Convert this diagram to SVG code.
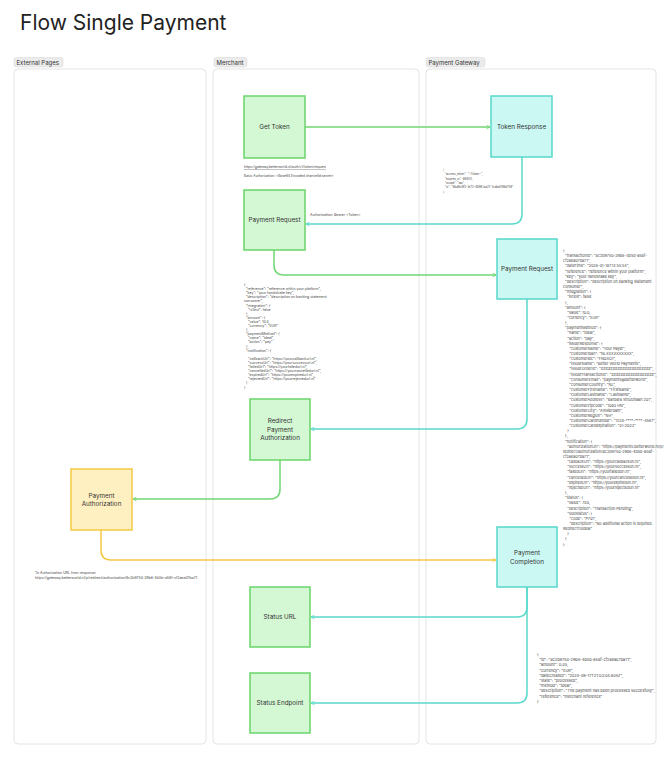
<svg xmlns="http://www.w3.org/2000/svg" width="670" height="758" viewBox="0 0 670 758">
<defs>
<style>
.lane{fill:#fff;stroke:#e4e4e4;stroke-width:1}
.lbl{fill:#ebebeb;stroke:#d6d6d6;stroke-width:0.5}
.lt{font-family:Inter,"Liberation Sans",sans-serif;font-size:6px;fill:#333}
.g{fill:#d4f7d4;stroke:#6ad56a;stroke-width:1.5}
.c{fill:#ccf8f3;stroke:#55d8ca;stroke-width:1.5}
.y{fill:#fff0c2;stroke:#f3c744;stroke-width:1.5}
.nt{font-family:Inter,"Liberation Sans",sans-serif;font-size:6.3px;fill:#333;text-anchor:middle}
.cg{fill:none;stroke:#72d672;stroke-width:1.5}
.cc{fill:none;stroke:#5ad9cb;stroke-width:1.5}
.cy{fill:none;stroke:#f3c744;stroke-width:1.5}
.j{font-family:Inter,"Liberation Sans",sans-serif;fill:#444;white-space:pre}
</style>
<marker id="ag" viewBox="0 0 10 10" refX="9" refY="5" markerWidth="5" markerHeight="5" orient="auto" markerUnits="userSpaceOnUse"><path d="M2,1 L9,5 L2,9" fill="none" stroke="#72d672" stroke-width="1.6"/></marker>
<marker id="ac" viewBox="0 0 10 10" refX="9" refY="5" markerWidth="5" markerHeight="5" orient="auto" markerUnits="userSpaceOnUse"><path d="M2,1 L9,5 L2,9" fill="none" stroke="#5ad9cb" stroke-width="1.6"/></marker>
<marker id="ay" viewBox="0 0 10 10" refX="9" refY="5" markerWidth="5" markerHeight="5" orient="auto" markerUnits="userSpaceOnUse"><path d="M2,1 L9,5 L2,9" fill="none" stroke="#f3c744" stroke-width="1.6"/></marker>
</defs>
<rect width="670" height="758" fill="#fff"/>
<text x="20" y="30" font-family="Inter,'Liberation Sans',sans-serif" font-size="21" fill="#222">Flow Single Payment</text>

<g id="lanes">
<rect class="lane" x="14" y="69" width="192" height="675" rx="4"/>
<rect class="lane" x="213" y="69" width="206" height="675" rx="4"/>
<rect class="lane" x="426" y="69" width="230" height="675" rx="4"/>
<rect class="lbl" x="14" y="57.5" width="49" height="9.5" rx="2"/>
<text class="lt" x="16.5" y="64.5">External Pages</text>
<rect class="lbl" x="214" y="57.5" width="33" height="9.5" rx="2"/>
<text class="lt" x="216.5" y="64.5">Merchant</text>
<rect class="lbl" x="426" y="57.5" width="59" height="9.5" rx="2"/>
<text class="lt" x="428.5" y="64.5">Payment Gateway</text>
</g>

<g id="connectors">
<path class="cg" d="M305,127 H490" marker-end="url(#ag)"/>
<path class="cc" d="M522,157 V214 Q522,224 512,224 H306" marker-end="url(#ac)"/>
<path class="cg" d="M274,250 V265 Q274,275 284,275 H496" marker-end="url(#ag)"/>
<path class="cc" d="M527,299 V419 Q527,429 517,429 H311" marker-end="url(#ac)"/>
<path class="cg" d="M280,460 V489 Q280,499 270,499 H133" marker-end="url(#ag)"/>
<path class="cy" d="M101,530 V550 Q101,560 111,560 H496" marker-end="url(#ay)"/>
<path class="cc" d="M527,587 V607 Q527,617 517,617 H311" marker-end="url(#ac)"/>
<path class="cc" d="M527,587 V693 Q527,703 517,703 H311" marker-end="url(#ac)"/>
</g>

<g id="get-token"><rect class="g" x="244" y="96" width="61" height="62"/><text class="nt" x="274.5" y="129">Get Token</text></g>
<g id="token-response"><rect class="c" x="491" y="96" width="61" height="61"/><text class="nt" x="521.5" y="129">Token Response</text></g>
<g id="payment-request-merchant"><rect class="g" x="244" y="190" width="61" height="60"/><text class="nt" x="274.5" y="222">Payment Request</text></g>
<g id="payment-request-gateway"><rect class="c" x="497" y="239" width="60" height="60"/><text class="nt" x="527" y="271">Payment Request</text></g>
<g id="redirect-payment-authorization"><rect class="g" x="250" y="399" width="60" height="61"/><text class="nt" x="280" y="423">Redirect</text><text class="nt" x="280" y="431.5">Payment</text><text class="nt" x="280" y="440">Authorization</text></g>
<g id="payment-authorization"><rect class="y" x="71" y="469" width="61" height="61"/><text class="nt" x="101.5" y="497.5">Payment</text><text class="nt" x="101.5" y="506">Authorization</text></g>
<g id="payment-completion"><rect class="c" x="497" y="527" width="60" height="60"/><text class="nt" x="527" y="555">Payment</text><text class="nt" x="527" y="563.5">Completion</text></g>
<g id="status-url"><rect class="g" x="250" y="587" width="60" height="60"/><text class="nt" x="280" y="619">Status URL</text></g>
<g id="status-endpoint"><rect class="g" x="250" y="673" width="60" height="60"/><text class="nt" x="280" y="705">Status Endpoint</text></g>

<g id="texts">
<text class="j" font-size="3.3" x="244" y="168" text-decoration="underline">https://gateway.betterworld.nl/auth/v1/token/request</text>
<text class="j" font-size="3.3" x="244" y="177">Basic Authorization: &lt;Base64 Encoded channelId:secret&gt;</text>
<text class="j" font-size="3.5" x="310" y="216">Authorization: Bearer &lt;Token&gt;</text>

<text class="j" font-size="2.9" x="443">
<tspan x="443" y="171">{</tspan>
<tspan x="443" y="175.3">  "access_token": "&lt;Token&gt;",</tspan>
<tspan x="443" y="179.6">  "expires_in": 86400,</tspan>
<tspan x="443" y="183.9">  "scope": "api",</tspan>
<tspan x="443" y="188.2">  "jti": "8bd6c9f3-1e73-4896-ba27-1cdbd789d759"</tspan>
<tspan x="443" y="192.5">}</tspan>
</text>

<text class="j" font-size="3.5">
<tspan x="244" y="286">{</tspan>
<tspan x="244" y="290.1">  "reference": "reference within your platform",</tspan>
<tspan x="244" y="294.2">  "key": "your handshake key",</tspan>
<tspan x="244" y="298.3">  "description": "description on banking statement</tspan>
<tspan x="244" y="302.4">consumer",</tspan>
<tspan x="244" y="306.5">  "integration": {</tspan>
<tspan x="244" y="310.6">    "isTest": false</tspan>
<tspan x="244" y="314.7">  },</tspan>
<tspan x="244" y="318.8">  "amount": {</tspan>
<tspan x="244" y="322.9">    "value": 10.0,</tspan>
<tspan x="244" y="327">    "currency": "EUR"</tspan>
<tspan x="244" y="331.1">  },</tspan>
<tspan x="244" y="335.2">  "paymentMethod": {</tspan>
<tspan x="244" y="339.3">    "name": "ideal",</tspan>
<tspan x="244" y="343.4">    "action": "pay"</tspan>
<tspan x="244" y="347.5">  },</tspan>
<tspan x="244" y="351.6">  "notification": {</tspan>
<tspan x="244" y="359.8">    "callbackUrl": "https://yourcallbackurl.nl",</tspan>
<tspan x="244" y="363.9">    "successUrl": "https://yoursuccessurl.nl",</tspan>
<tspan x="244" y="368">    "failedUrl": "https://yourfailedurl.nl",</tspan>
<tspan x="244" y="372.1">    "cancelledUrl": "https://yourcancelledurl.nl",</tspan>
<tspan x="244" y="376.2">    "expiredUrl": "https://yourexpiredurl.nl",</tspan>
<tspan x="244" y="380.3">    "rejectedUrl": "https://yourrejectedurl.nl"</tspan>
<tspan x="244" y="384.4">  }</tspan>
<tspan x="244" y="388.5">}</tspan>
</text>

<text class="j" font-size="3.75">
<tspan x="563" y="252">{</tspan>
<tspan x="563" y="257.15">  "transactionId": "8c2b9750-29b6-4b5b-a58f-</tspan>
<tspan x="563" y="262.3">cf2aea07ba71",</tspan>
<tspan x="563" y="267.45">  "dateTime": "2026-01-18T13:55:54",</tspan>
<tspan x="563" y="272.6">  "reference": "reference within your platform",</tspan>
<tspan x="563" y="277.75">  "key": "your handshake key",</tspan>
<tspan x="563" y="282.9">  "description": "description on banking statement</tspan>
<tspan x="563" y="288.05">consumer",</tspan>
<tspan x="563" y="293.2">  "integration": {</tspan>
<tspan x="563" y="298.35">    "isTest": false</tspan>
<tspan x="563" y="303.5">  },</tspan>
<tspan x="563" y="308.65">  "amount": {</tspan>
<tspan x="563" y="313.8">    "value": 10.0,</tspan>
<tspan x="563" y="318.95">    "currency": "EUR"</tspan>
<tspan x="563" y="324.1">  },</tspan>
<tspan x="563" y="329.25">  "paymentMethod": {</tspan>
<tspan x="563" y="334.4">    "name": "ideal",</tspan>
<tspan x="563" y="339.55">    "action": "pay",</tspan>
<tspan x="563" y="344.7">    "issuerResponse": {</tspan>
<tspan x="563" y="349.85">      "customerName": "Your Payer",</tspan>
<tspan x="563" y="355">      "customerIban": "NLXXXXXXXXXX",</tspan>
<tspan x="563" y="360.15">      "customerBic": "FNDSO1",</tspan>
<tspan x="563" y="365.3">      "issuerName": "Better World Payments",</tspan>
<tspan x="563" y="370.45">      "issuerOrderId": "#####################",</tspan>
<tspan x="563" y="375.6">      "issuerTransactionId": "##################",</tspan>
<tspan x="563" y="380.75">      "consumerEmail": "payments@betterworld",</tspan>
<tspan x="563" y="385.9">      "consumerCountry": "NL",</tspan>
<tspan x="563" y="391.05">      "customerFirstname": "FirstName",</tspan>
<tspan x="563" y="396.2">      "customerLastname": "LastName",</tspan>
<tspan x="563" y="401.35">      "customerAddress": "Barbara Strozzilaan 201",</tspan>
<tspan x="563" y="406.5">      "customerZipcode": "1083 HN",</tspan>
<tspan x="563" y="411.65">      "customerCity": "Amsterdam",</tspan>
<tspan x="563" y="416.8">      "customerRegion": "NH",</tspan>
<tspan x="563" y="421.95">      "customerCardnumber": "1234-****-****-4567",</tspan>
<tspan x="563" y="427.1">      "customerCardexpiration": "01-2023"</tspan>
<tspan x="563" y="432.25">    }</tspan>
<tspan x="563" y="437.4">  },</tspan>
<tspan x="563" y="442.55">  "notification": {</tspan>
<tspan x="563" y="447.7">    "authorizationUrl": "https://payments.betterworld.nl/p/</tspan>
<tspan x="563" y="452.85">redirect/authorization/8c2b9750-29b6-4b5b-a58f-</tspan>
<tspan x="563" y="458">cf2aea07ba71",</tspan>
<tspan x="563" y="463.15">    "callbackUrl": "https://yourcallbackurl.nl",</tspan>
<tspan x="563" y="468.3">    "successUrl": "https://yoursuccessurl.nl",</tspan>
<tspan x="563" y="473.45">    "failedUrl": "https://yourfailedurl.nl",</tspan>
<tspan x="563" y="478.6">    "cancelledUrl": "https://yourcancelledurl.nl",</tspan>
<tspan x="563" y="483.75">    "expiredUrl": "https://yourexpiredurl.nl",</tspan>
<tspan x="563" y="488.9">    "rejectedUrl": "https://yourrejectedurl.nl"</tspan>
<tspan x="563" y="494.05">  },</tspan>
<tspan x="563" y="499.2">  "status": {</tspan>
<tspan x="563" y="504.35">    "value": 700,</tspan>
<tspan x="563" y="509.5">    "description": "Transaction Pending",</tspan>
<tspan x="563" y="514.65">    "subStatus": {</tspan>
<tspan x="563" y="519.8">      "code": "P701",</tspan>
<tspan x="563" y="524.95">      "description": "No additional action is required.</tspan>
<tspan x="563" y="530.1">RedirectToIdeal"</tspan>
<tspan x="563" y="535.25">    }</tspan>
<tspan x="563" y="540.4">  }</tspan>
<tspan x="563" y="545.55">}</tspan>
</text>

<text class="j" font-size="3.5">
<tspan x="35" y="574">To Authorization URL from response:</tspan>
<tspan x="35" y="579">https://gateway.betterworld.nl/p/redirect/authorization/8c2b9750-29b6-4b5b-a58f-cf2aea07ba71</tspan>
</text>

<text class="j" font-size="3.9">
<tspan x="537" y="656">{</tspan>
<tspan x="537" y="661.2">  "id": "8c2b9750-29b6-4b5b-a58f-cf2aea07ba71",</tspan>
<tspan x="537" y="666.4">  "amount": 0.05,</tspan>
<tspan x="537" y="671.6">  "currency": "EUR",</tspan>
<tspan x="537" y="676.8">  "dateCreated": "2024-09-17T21:03:04.806Z",</tspan>
<tspan x="537" y="682">  "state": "processed",</tspan>
<tspan x="537" y="687.2">  "method": "ideal",</tspan>
<tspan x="537" y="692.4">  "description": "The payment has been processed succesfully",</tspan>
<tspan x="537" y="697.6">  "reference": "merchant reference"</tspan>
<tspan x="537" y="702.8">}</tspan>
</text>
</g>
</svg>
